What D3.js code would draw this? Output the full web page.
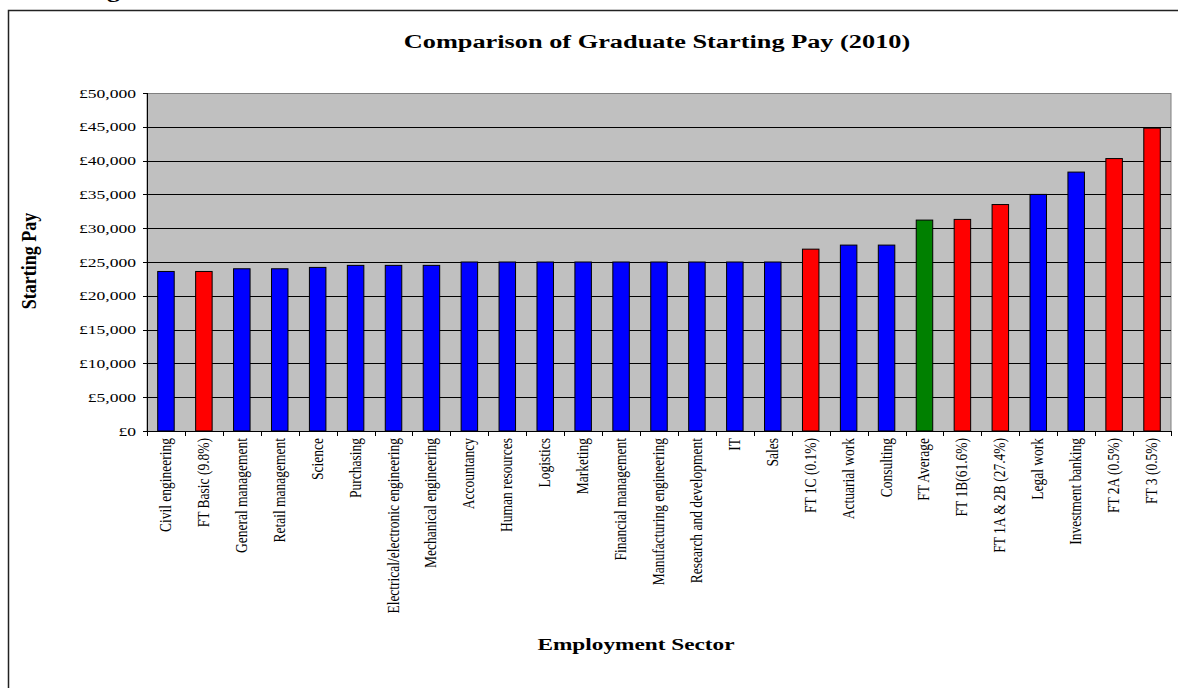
<!DOCTYPE html>
<html lang="en">
<head>
    <meta charset="UTF-8" />
    <title>Comparison of Graduate Starting Pay (2010)</title>
    <script src="https://d3js.org/d3.v7.min.js"></script>
    <style>
        body { margin: 0; background: #fff; }
        text { font-family: "Times New Roman", "Liberation Serif", serif; fill: #000; }
    </style>
</head>

<body>
    <script>
        var w = 1178;
        var h = 688;
        var stretch = 1.3; // the original image is stretched sideways

        var sectors = ["Civil engineering", "FT Basic (9.8%)", "General management", "Retail management",
            "Science", "Purchasing", "Electrical/electronic engineering", "Mechanical engineering",
            "Accountancy", "Human resources", "Logistics", "Marketing", "Financial management",
            "Manufacturing engineering", "Research and development", "IT", "Sales", "FT 1C (0.1%)",
            "Actuarial work", "Consulting", "FT Average", "FT 1B(61.6%)", "FT 1A & 2B (27.4%)",
            "Legal work", "Investment banking", "FT 2A (0.5%)", "FT 3 (0.5%)"];
        var pay = [23600, 23600, 24000, 24000, 24200, 24500, 24500, 24500, 25000, 25000, 25000,
            25000, 25000, 25000, 25000, 25000, 25000, 26900, 27500, 27500, 31200, 31300, 33500,
            35000, 38300, 40300, 44800];
        // "sector" = employment sector, "ft" = FT class, "avg" = FT average
        var kinds = ["sector", "ft", "sector", "sector", "sector", "sector", "sector", "sector",
            "sector", "sector", "sector", "sector", "sector", "sector", "sector", "sector", "sector",
            "ft", "sector", "sector", "avg", "ft", "ft", "sector", "sector", "ft", "ft"];
        var yTicks = [0, 5000, 10000, 15000, 20000, 25000, 30000, 35000, 40000, 45000, 50000];

        var colour = { sector: "#0000ff", ft: "#ff0000", avg: "#008000" };

        // plot area edges (window.top is reserved, so prefixed names)
        var plotL = 147, plotR = 1171, plotT = 93, plotB = 431;

        var svg = d3.select("body")
            .append("svg")
            .attr("width", w)
            .attr("height", h);

        // outer frame (runs off the right and bottom edge)
        svg.append("rect")
            .attr("x", 8.5).attr("y", 10.5)
            .attr("width", 1300).attr("height", 800)
            .attr("fill", "none")
            .attr("stroke", "#222")
            .attr("stroke-width", 1.5);

        // cut-off heading above the frame
        svg.append("text")
            .attr("transform", "translate(120,-3) scale(" + stretch + ",1)")
            .attr("text-anchor", "end")
            .attr("font-size", 20)
            .attr("font-weight", "bold")
            .text("Starting");

        // Scales
        var xScale = d3.scaleBand()
            .domain(sectors)
            .range([plotL, plotR])
            .paddingInner(0.565)
            .paddingOuter(0.2825);

        var yScale = d3.scaleLinear()
            .domain([0, 50000])
            .range([plotB, plotT]);

        // plot area
        svg.append("rect")
            .attr("x", plotL).attr("y", plotT + 0.5)
            .attr("width", plotR - plotL).attr("height", plotB - plotT)
            .attr("fill", "#c0c0c0")
            .attr("stroke", "#808080")
            .attr("stroke-width", 1);

        // gridlines
        svg.selectAll("line.grid")
            .data(yTicks.slice(1, -1))
            .enter()
            .append("line")
            .attr("class", "grid")
            .attr("x1", plotL).attr("x2", plotR)
            .attr("y1", function(d) { return Math.round(yScale(d)) + 0.5; })
            .attr("y2", function(d) { return Math.round(yScale(d)) + 0.5; })
            .attr("stroke", "#000")
            .attr("stroke-width", 1);

        // bars
        svg.selectAll("rect.bar")
            .data(pay)
            .enter()
            .append("rect")
            .attr("class", "bar")
            .attr("x", function(d, i) { return xScale(sectors[i]); })
            .attr("y", function(d) { return yScale(d); })
            .attr("width", xScale.bandwidth())
            .attr("height", function(d) { return plotB - yScale(d); })
            .attr("fill", function(d, i) { return colour[kinds[i]]; })
            .attr("stroke", "#000")
            .attr("stroke-width", 1);

        // y axis
        svg.append("line")
            .attr("x1", plotL + 0.5).attr("x2", plotL + 0.5)
            .attr("y1", plotT).attr("y2", plotB)
            .attr("stroke", "#000");

        svg.selectAll("line.ytick")
            .data(yTicks)
            .enter()
            .append("line")
            .attr("class", "ytick")
            .attr("x1", plotL - 4).attr("x2", plotL)
            .attr("y1", function(d) { return Math.round(yScale(d)) + 0.5; })
            .attr("y2", function(d) { return Math.round(yScale(d)) + 0.5; })
            .attr("stroke", "#000");

        var money = d3.format(",");
        svg.selectAll("text.ylab")
            .data(yTicks)
            .enter()
            .append("text")
            .attr("class", "ylab")
            .attr("transform", function(d) {
                return "translate(136," + (yScale(d) + 4.5) + ") scale(" + stretch + ",1)";
            })
            .attr("text-anchor", "end")
            .attr("font-size", 13.5)
            .text(function(d) { return "£" + money(d); });

        // x axis
        svg.append("line")
            .attr("x1", plotL).attr("x2", plotR)
            .attr("y1", plotB + 0.5).attr("y2", plotB + 0.5)
            .attr("stroke", "#000");

        var step = xScale.step();
        svg.selectAll("line.xtick")
            .data(d3.range(sectors.length + 1))
            .enter()
            .append("line")
            .attr("class", "xtick")
            .attr("x1", function(i) { return Math.round(plotL + i * step) + 0.5; })
            .attr("x2", function(i) { return Math.round(plotL + i * step) + 0.5; })
            .attr("y1", plotB).attr("y2", plotB + 5)
            .attr("stroke", "#000");

        svg.selectAll("text.xlab")
            .data(sectors)
            .enter()
            .append("text")
            .attr("class", "xlab")
            .attr("transform", function(d) {
                var cx = xScale(d) + xScale.bandwidth() / 2;
                return "translate(" + (cx + 5) + "," + (plotB + 7) + ") rotate(-90) scale(1," + stretch + ")";
            })
            .attr("text-anchor", "end")
            .attr("font-size", 13.5)
            .text(function(d) { return d; });

        // titles
        svg.append("text")
            .attr("transform", "translate(657,48) scale(1.35,1)")
            .attr("text-anchor", "middle")
            .attr("font-size", 19.5)
            .attr("font-weight", "bold")
            .text("Comparison of Graduate Starting Pay (2010)");

        svg.append("text")
            .attr("transform", "translate(36,261) rotate(-90) scale(1,1.15)")
            .attr("text-anchor", "middle")
            .attr("font-size", 18)
            .attr("font-weight", "bold")
            .text("Starting Pay");

        svg.append("text")
            .attr("transform", "translate(636,650) scale(1.37,1)")
            .attr("text-anchor", "middle")
            .attr("font-size", 17)
            .attr("font-weight", "bold")
            .text("Employment Sector");
    </script>
</body>
</html>
